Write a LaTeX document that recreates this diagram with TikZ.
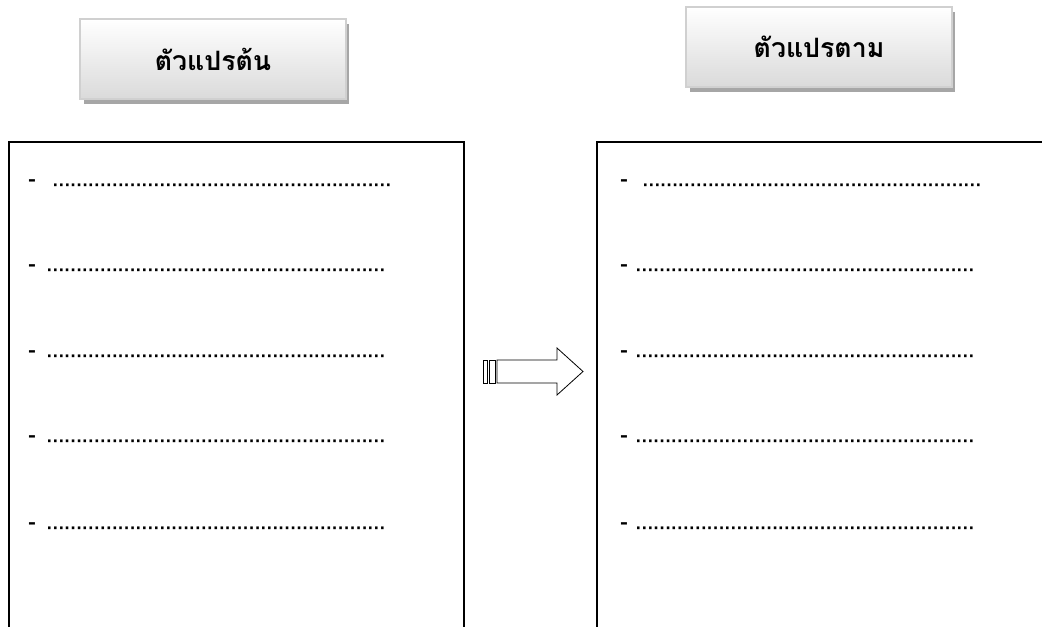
\documentclass[tikz,border=0pt]{standalone}
\usepackage{fontspec}
\newfontfamily\thaifont[Script=Thai]{Loma}
\usetikzlibrary{shadows}
\definecolor{kopfrand}{RGB}{208,208,208}
\definecolor{kopfunten}{RGB}{218,218,218}
\definecolor{schatten}{RGB}{166,166,166}
\newcommand\punkte{…………………………………………………}
\tikzset{
	kopf/.style={draw=kopfrand, line width=1.5pt, top color=white,
		bottom color=kopfunten, minimum width=199pt, minimum height=60pt,
		font=\thaifont\bfseries\fontsize{20}{23}\selectfont,
		drop shadow={shadow xshift=2.5pt, shadow yshift=-4pt, opacity=1,
			fill=schatten}},
	rahmen/.style={line width=1.3pt, draw=black},
	zeile/.style={inner sep=0pt, anchor=base west,
		font=\thaifont\bfseries\fontsize{16.6}{19}\selectfont},
	pfeil/.style={line width=0.6pt, draw=black, fill=white}
}
\begin{document}
\begin{tikzpicture}[x=0.75pt, y=-0.75pt]
	\clip (0,0) rectangle (1042,627);
	% Ueberschriften
	\node[kopf] (tl) at (213,59) {ตัวแปรต้น};
	\node[kopf] (tr) at (819,47) {ตัวแปรตาม};
	% Rahmen, unten offen
	\draw[rahmen] (9,700) -- (9,142) -- (464,142) -- (464,700);
	\draw[rahmen] (597,700) -- (597,142) -- (1100,142);
	% Zeilen links
	\node[zeile] (ld1) at (28,187) {-};
	\node[zeile] (lp1) at (52,187) {\punkte};
	\foreach \i/\y in {2/272,3/357,4/442,5/529} {
		\node[zeile] (ld\i) at (28,\y) {-};
		\node[zeile] (lp\i) at (46,\y) {\punkte};
	}
	% Zeilen rechts
	\node[zeile] (rd1) at (620,187) {-};
	\node[zeile] (rp1) at (642,187) {\punkte};
	\foreach \i/\y in {2/272,3/357,4/442,5/529} {
		\node[zeile] (rd\i) at (620,\y) {-};
		\node[zeile] (rp\i) at (635,\y) {\punkte};
	}
	% Pfeil
	\draw[pfeil] (483,360) rectangle (487,383);
	\draw[pfeil] (489,360) rectangle (495,383);
	\draw[pfeil] (497,360) -- (557,360) -- (557,348) -- (583,371.5) --
	(557,395) -- (557,383) -- (497,383) -- cycle;
\end{tikzpicture}
\end{document}
